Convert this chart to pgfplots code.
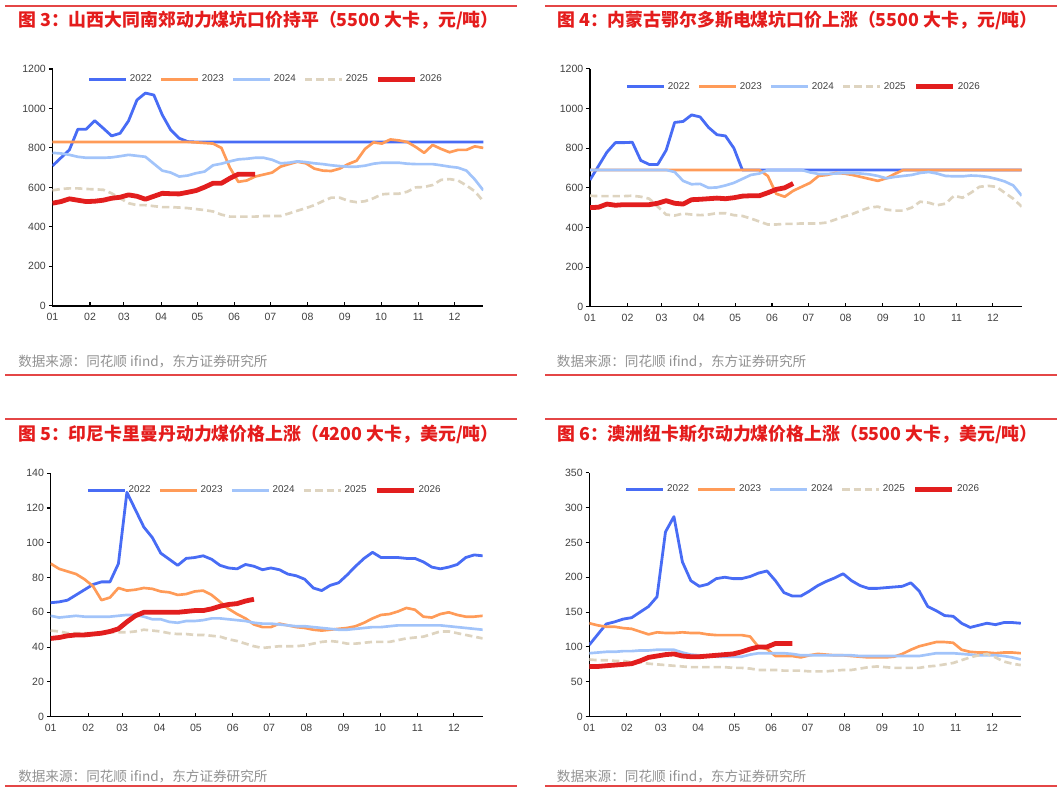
\documentclass[border=0pt]{standalone}
\usepackage{pgfplots}
\pgfplotsset{compat=1.18}
\usepackage{pgfplotstable}
\usepackage{fontspec}
\setmainfont{Liberation Sans}
\newfontfamily\cjk{Noto Sans CJK SC}
\definecolor{c22}{RGB}{72,108,245}
\definecolor{c23}{RGB}{255,155,88}
\definecolor{c24}{RGB}{162,196,250}
\definecolor{c25}{RGB}{222,212,192}
\definecolor{c26}{RGB}{226,30,30}
\definecolor{titlered}{RGB}{228,28,28}
\definecolor{rulered}{RGB}{228,70,70}
\definecolor{tickgray}{RGB}{64,64,64}
\definecolor{srcgray}{RGB}{145,145,145}
\pgfplotsset{
  panel/.style={
    scale only axis, anchor=south west,
    axis x line*=bottom, axis y line*=left,
    axis line style={-, black, line width=1.1pt},
    xmin=0, xmax=51, ymin=0,
    xtick={0,4.44,8.45,12.87,17.15,21.5,25.8,30.2,34.6,38.9,43.3,47.6},
    xticklabels={01,02,03,04,05,06,07,08,09,10,11,12},
    tick label style={font=\fontsize{7.9}{9}\selectfont, text=tickgray},
    tick align=inside, major tick length=2.8pt,
    tick style={black, line width=0.8pt},
    ytick style={xshift=-2.8pt},
    yticklabel style={xshift=-1.5pt},
    xticklabel style={yshift=-2pt},
    /pgf/number format/assume math mode=true,
    /pgf/number format/1000 sep={},
    legend columns=5,
    legend style={draw=none, fill=none, anchor=center, font=\fontsize{7.4}{9}\selectfont, text=tickgray,
      /tikz/every even column/.append style={column sep=4pt}},
    legend image code/.code={\draw[##1, line cap=butt] (0pt,0pt) -- (27.5pt,0pt);},
  },
  s22/.style={c22, line width=2.1pt, line join=round},
  s23/.style={c23, line width=2.0pt, line join=round},
  s24/.style={c24, line width=2.0pt, line join=round},
  s25/.style={c25, line width=2.0pt, dash pattern=on 5.5pt off 3pt},
  s26/.style={c26, line width=3.6pt, line join=round},
}
\begin{document}
\pgfplotstableread{
w a b c d e
0 709 830 775 585 520
1 750 830 772 592 528
2 790 830 765 595 542
3 895 830 755 595 535
4 895 830 750 592 528
5 938 830 750 590 530
6 900 830 750 588 535
7 861 830 752 570 545
8 874 830 758 545 550
9 937 830 765 520 562
10 1043 830 760 510 555
11 1078 830 755 510 540
12 1068 830 720 505 555
13 967 830 685 500 570
14 891 830 675 500 568
15 849 830 655 498 567
16 832 830 660 495 575
17 830 828 672 490 584
18 830 825 680 485 601
19 830 822 712 478 621
20 830 800 720 462 621
21 830 700 732 452 646
22 830 628 742 452 667
23 830 635 745 452 667
24 830 655 750 452 667
25 830 665 750 455 nan
26 830 675 740 455 nan
27 830 705 722 455 nan
28 830 718 725 468 nan
29 830 730 732 482 nan
30 830 722 728 495 nan
31 830 695 722 510 nan
32 830 685 718 530 nan
33 830 683 712 548 nan
34 830 695 708 548 nan
35 830 718 705 532 nan
36 830 735 705 525 nan
37 830 795 710 530 nan
38 830 828 720 545 nan
39 830 822 725 565 nan
40 830 843 725 568 nan
41 830 838 725 568 nan
42 830 830 720 578 nan
43 830 805 718 600 nan
44 830 775 718 602 nan
45 830 815 718 612 nan
46 830 795 712 638 nan
47 830 778 705 642 nan
48 830 790 700 635 nan
49 830 790 685 610 nan
50 830 808 640 580 nan
51 830 800 585 530 nan
}\Pone
\pgfplotstableread{
w a b c d e
0 640 690 690 560 500
1 710 690 690 558 502
2 780 690 690 558 518
3 828 690 690 558 512
4 828 690 690 558 515
5 830 690 690 560 515
6 738 690 690 555 515
7 718 690 690 545 515
8 718 690 690 505 522
9 790 690 690 465 535
10 930 690 680 460 522
11 935 690 635 470 518
12 968 690 618 465 540
13 958 690 620 462 542
14 905 690 600 465 545
15 868 690 602 472 548
16 862 690 612 472 545
17 800 690 625 462 550
18 690 690 645 458 558
19 690 690 665 445 560
20 690 690 672 430 560
21 690 660 690 415 575
22 690 570 690 415 592
23 690 555 690 418 600
24 690 585 690 418 622
25 690 605 690 420 nan
26 690 625 678 420 nan
27 690 660 670 420 nan
28 690 665 670 425 nan
29 690 675 672 440 nan
30 690 672 675 455 nan
31 690 665 675 468 nan
32 690 655 672 485 nan
33 690 645 668 500 nan
34 690 635 660 505 nan
35 690 648 648 490 nan
36 690 670 655 485 nan
37 690 690 660 485 nan
38 690 690 665 500 nan
39 690 690 675 530 nan
40 690 690 680 525 nan
41 690 690 672 512 nan
42 690 690 660 520 nan
43 690 690 658 560 nan
44 690 690 658 550 nan
45 690 690 662 575 nan
46 690 690 660 605 nan
47 690 690 655 610 nan
48 690 690 645 605 nan
49 690 690 632 575 nan
50 690 690 612 545 nan
51 690 690 560 505 nan
}\Ptwo
\pgfplotstableread{
w a b c d e
0 65.5 88 58 49.5 45
1 66 85 57 49 45.5
2 67 83.5 57.5 48 46.5
3 70 82 58 48 47
4 73 79 57.5 48 47
5 76 75 57.5 48 47.5
6 77.5 67 57.5 48 48
7 77.5 68.5 57.5 48.5 49
8 88 74 58 48.5 50.5
9 129 72.5 58.5 48.5 54.5
10 119 73 58.5 49 58
11 109 74 57.5 50 60
12 103 73.5 56 49.5 60
13 94 72 56 49 60
14 90.5 71.5 54.5 48 60
15 87 70 54 47.5 60
16 91 70.5 55 47.5 60.5
17 91.5 72 55 47 61
18 92.5 72.5 55.5 47 61
19 90.5 70 56.5 46.5 62
20 87 66 56.5 46 63.5
21 85.5 62 56 44.5 64.5
22 85 59 55.5 43.5 65
23 87.5 56.5 55 42 66.5
24 86.5 53 54 40.5 67.5
25 84.5 51.5 53.5 39.5 nan
26 85.5 51.5 53.5 40 nan
27 84.5 53.5 53 40.5 nan
28 82 52.5 52.5 40.5 nan
29 81 51.5 52 40.5 nan
30 79 51 52 41 nan
31 74 50 51.5 42 nan
32 72.5 49.5 51 43 nan
33 75.5 50 50.5 43.5 nan
34 77 50.5 50 43 nan
35 81.5 51 50 42 nan
36 86.5 52 50.5 42 nan
37 91 54 51 42.5 nan
38 94.5 56.5 51.5 43 nan
39 91.5 58.5 51.5 43 nan
40 91.5 59 52 43 nan
41 91.5 60.5 52.5 44 nan
42 91 62.5 52.5 45 nan
43 91 61.5 52.5 45.5 nan
44 89 57.5 52.5 46 nan
45 86 57 52.5 47.5 nan
46 85 59 52.5 49 nan
47 86 60 52 49 nan
48 87.5 58.5 51.5 48 nan
49 91.5 57.5 51 47 nan
50 93 57.5 50.5 46 nan
51 92.5 58 50 45 nan
}\Pthree
\pgfplotstableread{
w a b c d e
0 103 134 91 82 72
1 118 131 92 81 72
2 133 129 93 81 73
3 136 129 93 80 74
4 140 127 94 80 75
5 142 126 94 78 76
6 150 122 95 78 80
7 158 118 95 76 85
8 172 121 96 75 87
9 265 120 96 74 89
10 287 120 96 73 90
11 222 121 92 72 87
12 195 120 89 71 86
13 187 120 88 71 86
14 190 118 87 71 87
15 198 117 86 71 88
16 200 117 86 71 89
17 198 117 86 70 90
18 198 117 86 70 93
19 201 115 89 69 97
20 206 100 91 67 100
21 209 97 91 67 100
22 195 87 91 67 105
23 178 87 91 66 105
24 173 87 90 66 105
25 173 85 88 66 nan
26 180 88 88 65 nan
27 188 90 88 65 nan
28 194 89 88 65 nan
29 199 88 88 66 nan
30 205 88 88 67 nan
31 195 87 88 67 nan
32 188 86 87 69 nan
33 184 85 87 71 nan
34 184 85 87 72 nan
35 185 85 87 71 nan
36 186 86 87 70 nan
37 187 90 87 70 nan
38 192 96 87 70 nan
39 180 101 87 70 nan
40 158 104 89 72 nan
41 152 107 91 73 nan
42 145 107 91 75 nan
43 144 106 91 77 nan
44 134 96 90 81 nan
45 128 93 89 85 nan
46 131 92 88 88 nan
47 134 92 88 90 nan
48 132 91 88 85 nan
49 135 92 87 79 nan
50 135 92 85 76 nan
51 134 91 82 74 nan
}\Pfour
\begin{tikzpicture}
\path (0,0) rectangle (795.75pt,594pt);
% red rules
\draw[rulered, line width=1.1pt] (3.75pt,589.5pt) -- (387.75pt,589.5pt);
\draw[rulered, line width=1.1pt] (408.75pt,589.5pt) -- (792.75pt,589.5pt);
\draw[rulered, line width=1.1pt] (3.75pt,312.75pt) -- (387.75pt,312.75pt);
\draw[rulered, line width=1.1pt] (408.75pt,312.75pt) -- (792.75pt,312.75pt);
\draw[rulered, line width=1.1pt] (3.75pt,279.75pt) -- (387.75pt,279.75pt);
\draw[rulered, line width=1.1pt] (408.75pt,279.75pt) -- (792.75pt,279.75pt);
\draw[rulered, line width=1.1pt] (3.75pt,4.5pt) -- (387.75pt,4.5pt);
\draw[rulered, line width=1.1pt] (408.75pt,4.5pt) -- (792.75pt,4.5pt);
% titles
\node[anchor=west, inner sep=0pt, text=titlered, font=\cjk\bfseries\fontsize{13.4}{15}\selectfont] at (13.5pt,579pt) {图 3：山西大同南郊动力煤坑口价持平（5500 大卡，元/吨）};
\node[anchor=west, inner sep=0pt, text=titlered, font=\cjk\bfseries\fontsize{13.4}{15}\selectfont] at (417.75pt,579pt) {图 4：内蒙古鄂尔多斯电煤坑口价上涨（5500 大卡，元/吨）};
\node[anchor=west, inner sep=0pt, text=titlered, font=\cjk\bfseries\fontsize{13.4}{15}\selectfont] at (13.5pt,268.5pt) {图 5：印尼卡里曼丹动力煤价格上涨（4200 大卡，美元/吨）};
\node[anchor=west, inner sep=0pt, text=titlered, font=\cjk\bfseries\fontsize{13.4}{15}\selectfont] at (417.75pt,268.5pt) {图 6：澳洲纽卡斯尔动力煤价格上涨（5500 大卡，美元/吨）};
% sources
\node[anchor=west, inner sep=0pt, text=srcgray, font=\cjk\fontsize{10.2}{12}\selectfont] at (13.5pt,323.25pt) {数据来源：同花顺 ifind，东方证券研究所};
\node[anchor=west, inner sep=0pt, text=srcgray, font=\cjk\fontsize{10.2}{12}\selectfont] at (417.5pt,323.25pt) {数据来源：同花顺 ifind，东方证券研究所};
\node[anchor=west, inner sep=0pt, text=srcgray, font=\cjk\fontsize{10.2}{12}\selectfont] at (13.5pt,12pt) {数据来源：同花顺 ifind，东方证券研究所};
\node[anchor=west, inner sep=0pt, text=srcgray, font=\cjk\fontsize{10.2}{12}\selectfont] at (417.5pt,12pt) {数据来源：同花顺 ifind，东方证券研究所};

% panel 1
\begin{axis}[panel, at={(39.375pt,364.65pt)}, width=323.1pt, height=177.6pt,
  ymax=1200, ytick={0,200,...,1200}, legend style={at={(0.496,0.957)}}]
\addplot[s22] table[x=w,y=a]{\Pone}; \addlegendentry{2022}
\addplot[s23] table[x=w,y=b]{\Pone}; \addlegendentry{2023}
\addplot[s24] table[x=w,y=c]{\Pone}; \addlegendentry{2024}
\addplot[s25] table[x=w,y=d]{\Pone}; \addlegendentry{2025}
\addplot[s26] table[x=w,y=e]{\Pone}; \addlegendentry{2026}
\end{axis}
% panel 2
\begin{axis}[panel, at={(442.5pt,363.98pt)}, width=323.8pt, height=178.3pt,
  ymax=1200, ytick={0,200,...,1200}, legend style={at={(0.496,0.925)}}]
\addplot[s22] table[x=w,y=a]{\Ptwo}; \addlegendentry{2022}
\addplot[s23] table[x=w,y=b]{\Ptwo}; \addlegendentry{2023}
\addplot[s24] table[x=w,y=c]{\Ptwo}; \addlegendentry{2024}
\addplot[s25] table[x=w,y=d]{\Ptwo}; \addlegendentry{2025}
\addplot[s26] table[x=w,y=e]{\Ptwo}; \addlegendentry{2026}
\end{axis}
% panel 3
\begin{axis}[panel, at={(38.0pt,56.5pt)}, width=324pt, height=182.6pt,
  ymax=140, ytick={0,20,...,140}, legend style={at={(0.496,0.929)}}]
\addplot[s22] table[x=w,y=a]{\Pthree}; \addlegendentry{2022}
\addplot[s23] table[x=w,y=b]{\Pthree}; \addlegendentry{2023}
\addplot[s24] table[x=w,y=c]{\Pthree}; \addlegendentry{2024}
\addplot[s25] table[x=w,y=d]{\Pthree}; \addlegendentry{2025}
\addplot[s26] table[x=w,y=e]{\Pthree}; \addlegendentry{2026}
\end{axis}
% panel 4
\begin{axis}[panel, at={(442pt,56.5pt)}, width=323.6pt, height=183pt,
  ymax=350, ytick={0,50,...,350}, legend style={at={(0.496,0.932)}}]
\addplot[s22] table[x=w,y=a]{\Pfour}; \addlegendentry{2022}
\addplot[s23] table[x=w,y=b]{\Pfour}; \addlegendentry{2023}
\addplot[s24] table[x=w,y=c]{\Pfour}; \addlegendentry{2024}
\addplot[s25] table[x=w,y=d]{\Pfour}; \addlegendentry{2025}
\addplot[s26] table[x=w,y=e]{\Pfour}; \addlegendentry{2026}
\end{axis}
\end{tikzpicture}
\end{document}
